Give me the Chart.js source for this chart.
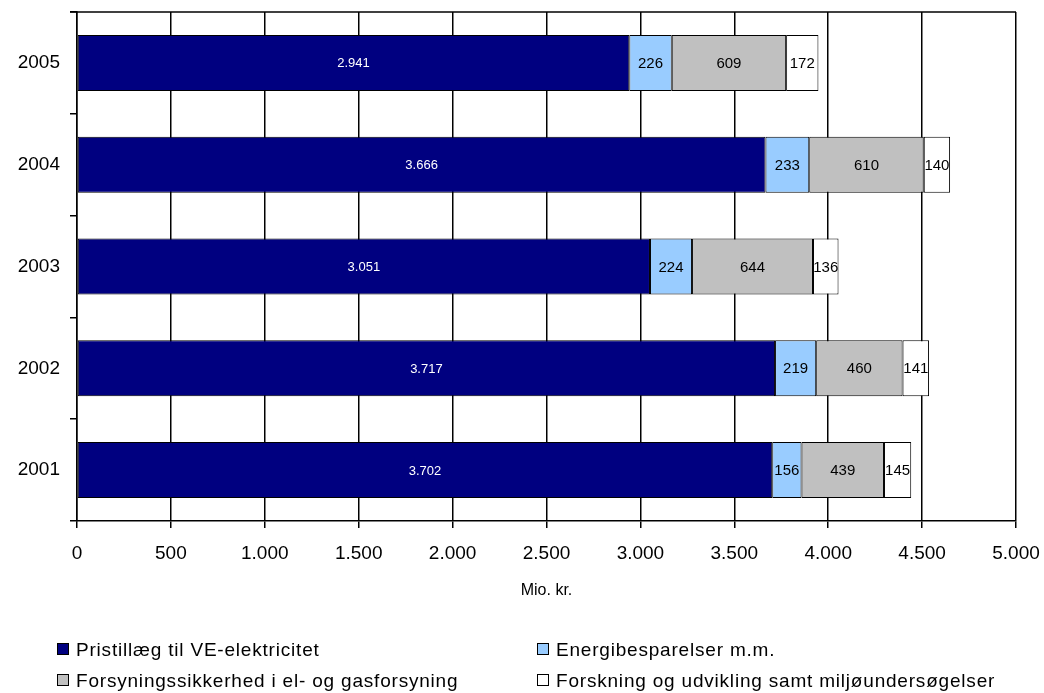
<!DOCTYPE html>
<html>
<head>
<meta charset="utf-8">
<script src="https://cdn.jsdelivr.net/npm/chart.js@4/dist/chart.umd.min.js"></script>
<style>
  body { margin: 0; background: #fff; font-family: "Liberation Sans", Arial, sans-serif; }
  #wrap { position: relative; width: 1044px; height: 693px; overflow: hidden; }
  #legend { position: absolute; left: 0; top: 0; width: 1044px; height: 693px; pointer-events: none; }
  .item { position: absolute; font-size: 19px; letter-spacing: 0.8px; color: #000; white-space: nowrap; line-height: 20px; }
  .box { display: inline-block; width: 10px; height: 10px; border: 1px solid #000; margin-right: 7px; vertical-align: 1px; }
</style>
</head>
<body>
<div id="wrap">
  <canvas id="chart" width="1044" height="693"></canvas>
  <div id="legend"></div>
</div>
<script>
const years = ["2005", "2004", "2003", "2002", "2001"];
const seriesNames = [
  "Pristillæg til VE-elektricitet",
  "Energibesparelser m.m.",
  "Forsyningssikkerhed i el- og gasforsyning",
  "Forskning og udvikling samt miljøundersøgelser"
];
const veElektricitet = [2941, 3666, 3051, 3717, 3702];
const energibesparelser = [226, 233, 224, 219, 156];
const forsyningssikkerhed = [609, 610, 644, 460, 439];
const forskning = [172, 140, 136, 141, 145];
const xTicks = [0, 500, 1000, 1500, 2000, 2500, 3000, 3500, 4000, 4500, 5000];

const colors = ["#000080", "#99CCFF", "#C0C0C0", "#FFFFFF"];
const values = [veElektricitet, energibesparelser, forsyningssikkerhed, forskning];

// Danish thousands separator
function fmt(v) {
  return String(v).replace(/\B(?=(\d{3})+(?!\d))/g, ".");
}

const labelPlugin = {
  id: "barLabels",
  afterDatasetsDraw(chart) {
    const ctx = chart.ctx;
    ctx.save();
    ctx.textAlign = "center";
    ctx.textBaseline = "middle";
    chart.data.datasets.forEach((ds, i) => {
      const meta = chart.getDatasetMeta(i);
      meta.data.forEach((el, j) => {
        const x = (el.x + el.base) / 2;
        if (i === 0) {
          ctx.fillStyle = "#fff";
          ctx.font = "13px 'Liberation Sans', Arial";
        } else {
          ctx.fillStyle = "#000";
          ctx.font = "15px 'Liberation Sans', Arial";
        }
        ctx.fillText(fmt(ds.data[j]), x, el.y + 1);
      });
    });
    ctx.restore();
  }
};

const borderPlugin = {
  id: "topBorder",
  afterDraw(chart) {
    const a = chart.chartArea;
    const ctx = chart.ctx;
    ctx.save();
    ctx.strokeStyle = "#000";
    ctx.lineWidth = 1.5;
    ctx.beginPath();
    ctx.moveTo(a.left - 7, a.top);
    ctx.lineTo(a.right, a.top);
    ctx.stroke();
    ctx.restore();
  }
};

new Chart(document.getElementById("chart"), {
  type: "bar",
  data: {
    labels: years,
    datasets: values.map((d, i) => ({
      label: seriesNames[i],
      data: d,
      backgroundColor: colors[i],
      borderColor: "#000",
      borderWidth: 1,
      borderSkipped: false,
      categoryPercentage: 1,
      barPercentage: 0.55
    }))
  },
  options: {
    indexAxis: "y",
    responsive: false,
    animation: false,
    layout: { padding: { top: 12, right: 28, bottom: 93, left: 0 } },
    plugins: { legend: { display: false }, tooltip: { enabled: false } },
    scales: {
      x: {
        stacked: true,
        min: 0,
        max: 5000,
        afterBuildTicks: s => { s.ticks = xTicks.map(v => ({ value: v })); },
        afterFit: s => { s.height = 79; s.paddingLeft = 0; s.paddingRight = 0; },
        grid: { color: "#000", lineWidth: 1.5, tickLength: 7 },
        border: { color: "#000", width: 1.5 },
        ticks: {
          color: "#000",
          padding: 14,
          maxRotation: 0,
          font: { family: "'Liberation Sans', Arial", size: 19 },
          callback: v => fmt(v)
        },
        title: {
          display: true,
          text: "Mio. kr.",
          color: "#000",
          padding: 0,
          font: { family: "'Liberation Sans', Arial", size: 16 }
        }
      },
      y: {
        stacked: true,
        afterFit: s => { s.width = 77; s.paddingTop = 0; s.paddingBottom = 0; },
        grid: { drawOnChartArea: false, color: "#000", lineWidth: 1.5, tickLength: 7, offset: true },
        border: { color: "#000", width: 1.5 },
        ticks: {
          color: "#000",
          padding: 10,
          font: { family: "'Liberation Sans', Arial", size: 19 }
        }
      }
    }
  },
  plugins: [labelPlugin, borderPlugin]
});

// legend in two columns
const legendPos = [[57, 640], [537, 640], [57, 671], [537, 671]];
const legend = document.getElementById("legend");
seriesNames.forEach((name, i) => {
  const div = document.createElement("div");
  div.className = "item";
  div.style.left = legendPos[i][0] + "px";
  div.style.top = legendPos[i][1] + "px";
  div.innerHTML = '<span class="box" style="background:' + colors[i] + '"></span>' + name;
  legend.appendChild(div);
});
</script>
</body>
</html>
